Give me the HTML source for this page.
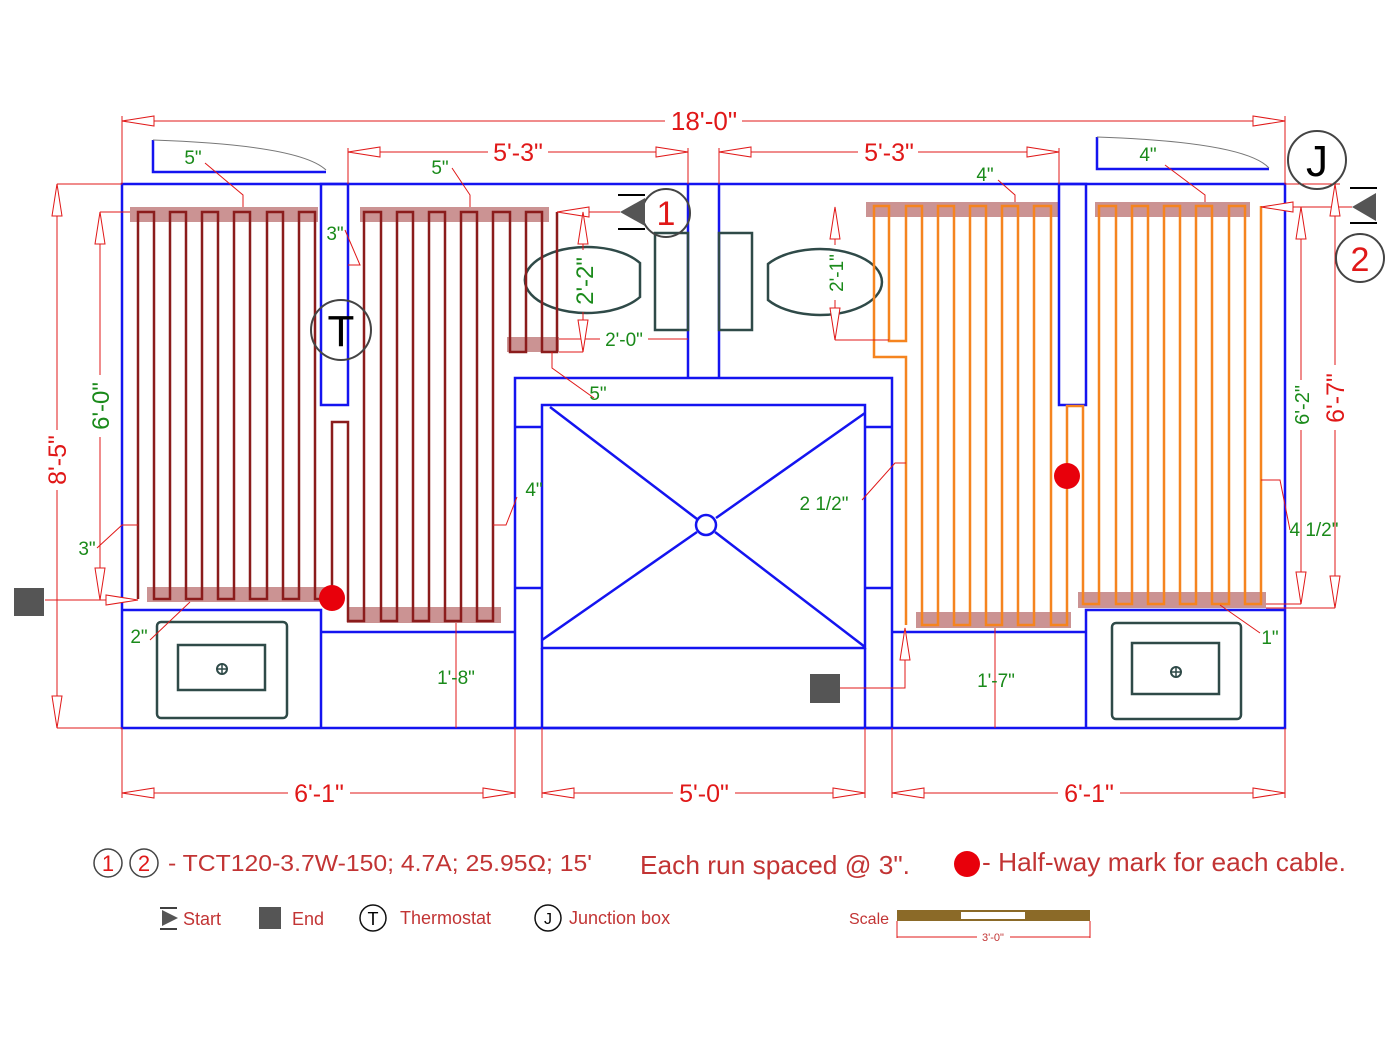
<!DOCTYPE html>
<html><head><meta charset="utf-8"><style>
html,body{margin:0;padding:0;background:#fff}
svg{display:block}
text{font-family:"Liberation Sans",Arial,sans-serif}
.w{stroke:#1414f0;stroke-width:2.5;fill:none}
.d{stroke:#e01818;stroke-width:1;fill:none}
.ar{stroke:#e01818;stroke-width:1;fill:#fff}
.g{fill:#1a8a1a;font-size:19px}
.r{fill:#e01818}
.fx{stroke:#2f4a48;stroke-width:2.5;fill:none}
.bar{fill:#b56565;opacity:0.7}
</style></head><body>
<svg width="1400" height="1049" viewBox="0 0 1400 1049" xmlns="http://www.w3.org/2000/svg">
<rect class="bar" x="130" y="207" width="188" height="15"/>
<rect class="bar" x="360" y="207" width="189" height="15"/>
<rect class="bar" x="147" y="587" width="186" height="15"/>
<rect class="bar" x="347" y="607" width="154" height="16"/>
<rect class="bar" x="507" y="337" width="52" height="15"/>
<rect class="bar" x="866" y="202" width="192" height="15"/>
<rect class="bar" x="1095" y="202" width="155" height="15"/>
<rect class="bar" x="916" y="612" width="155" height="16"/>
<rect class="bar" x="1078" y="592" width="188" height="16"/>

<rect class="w" x="122" y="184" width="1163" height="544"/>
<rect class="w" x="321" y="184" width="27" height="221"/>
<rect class="w" x="1059" y="184" width="27" height="221"/>
<line class="w" x1="688" y1="184" x2="688" y2="378"/>
<line class="w" x1="719" y1="184" x2="719" y2="378"/>
<rect class="w" x="515" y="378" width="377" height="350"/>
<rect class="w" x="542" y="405" width="323" height="243"/>
<line class="w" x1="542" y1="648" x2="542" y2="728"/>
<line class="w" x1="865" y1="648" x2="865" y2="728"/>
<line class="w" x1="515" y1="427" x2="542" y2="427"/>
<line class="w" x1="515" y1="588" x2="542" y2="588"/>
<line class="w" x1="865" y1="427" x2="892" y2="427"/>
<line class="w" x1="865" y1="588" x2="892" y2="588"/>
<line class="w" x1="550" y1="407" x2="697" y2="519"/>
<line class="w" x1="715" y1="532" x2="865" y2="647"/>
<line class="w" x1="865" y1="413" x2="716" y2="518"/>
<line class="w" x1="697" y1="532" x2="542" y2="640"/>
<circle class="w" cx="706" cy="525" r="10"/>
<polyline class="w" points="122,610 321,610 321,728"/>
<line class="w" x1="321" y1="632" x2="515" y2="632"/>
<line class="w" x1="892" y1="632" x2="1086" y2="632"/>
<polyline class="w" points="1285,610 1086,610 1086,728"/>
<polyline class="w" points="153,140 153,172 326,172"/>
<path d="M153,140 Q300,145 326,170" stroke="#777" stroke-width="1" fill="none"/>
<polyline class="w" points="1097,137 1097,169 1269,169"/>
<path d="M1097,137 Q1245,142 1269,168" stroke="#777" stroke-width="1" fill="none"/>

<path class="fx" d="M640,263 A62,33 0 1 0 640,297 Z"/>
<path class="fx" d="M768,264 A62,33 0 1 1 768,300 Z"/>
<rect class="fx" x="655" y="233" width="33" height="97"/>
<rect class="fx" x="719" y="233" width="33" height="97"/>
<rect class="fx" x="157" y="622" width="130" height="96" rx="4"/>
<rect class="fx" x="178" y="645" width="87" height="45"/>
<circle cx="222" cy="669" r="5" stroke="#2f4a48" stroke-width="2" fill="none"/><path d="M217,669h10M222,664v10" stroke="#2f4a48" stroke-width="1.5"/>
<rect class="fx" x="1112" y="623" width="129" height="96" rx="4"/>
<rect class="fx" x="1132" y="643" width="87" height="51"/>
<circle cx="1176" cy="672" r="5" stroke="#2f4a48" stroke-width="2" fill="none"/><path d="M1171,672h10M1176,667v10" stroke="#2f4a48" stroke-width="1.5"/>

<path d="M557,212 L557,352 L542,352 L542,212 L526,212 L526,352 L510,352 L510,212 L493,212 L493,621 L477,621 L477,212 L461,212 L461,621 L445,621 L445,212 L429,212 L429,621 L413,621 L413,212 L397,212 L397,621 L381,621 L381,212 L364,212 L364,621 L348,621 L348,422 L332,422 L332,599 L315,599 L315,212 L299,212 L299,599 L283,599 L283,212 L267,212 L267,599 L250,599 L250,212 L234,212 L234,599 L218,599 L218,212 L202,212 L202,599 L186,599 L186,212 L170,212 L170,599 L154,599 L154,212 L138,212 L138,599" stroke="#8b1c1c" stroke-width="2.5" fill="none"/>
<path d="M1261,206 L1261,604 L1245,604 L1245,206 L1229,206 L1229,604 L1212,604 L1212,206 L1196,206 L1196,604 L1180,604 L1180,206 L1164,206 L1164,604 L1148,604 L1148,206 L1132,206 L1132,604 L1116,604 L1116,206 L1099,206 L1099,604 L1083,604 L1083,406 L1067,406 L1067,625 L1051,625 L1051,206 L1034,206 L1034,625 L1018,625 L1018,206 L1002,206 L1002,625 L986,625 L986,206 L970,206 L970,625 L954,625 L954,206 L938,206 L938,625 L922,625 L922,206 L906,206 L906,341 L889,341 L889,206 L874,206 L874,357 L906,357 L906,625" stroke="#f5841f" stroke-width="2.5" fill="none"/>
<circle cx="332" cy="598" r="13" fill="#e8000b"/>
<circle cx="1067" cy="476" r="13" fill="#e8000b"/>

<g class="d">
<line x1="122" y1="121" x2="665" y2="121"/><line x1="742" y1="121" x2="1285" y2="121"/>
<line x1="122" y1="116" x2="122" y2="184"/><line x1="1285" y1="116" x2="1285" y2="184"/>
<line x1="348" y1="152" x2="488" y2="152"/><line x1="548" y1="152" x2="688" y2="152"/>
<line x1="348" y1="148" x2="348" y2="184"/><line x1="688" y1="148" x2="688" y2="184"/>
<line x1="719" y1="152" x2="858" y2="152"/><line x1="918" y1="152" x2="1059" y2="152"/>
<line x1="719" y1="148" x2="719" y2="184"/><line x1="1059" y1="148" x2="1059" y2="184"/>
<line x1="57" y1="184" x2="57" y2="430"/><line x1="57" y1="490" x2="57" y2="728"/>
<line x1="57" y1="184" x2="122" y2="184"/><line x1="57" y1="728" x2="122" y2="728"/>
<line x1="100" y1="212" x2="100" y2="375"/><line x1="100" y1="437" x2="100" y2="600"/>
<line x1="100" y1="212" x2="130" y2="212"/><line x1="45" y1="600" x2="138" y2="600"/>
<line x1="1335" y1="184" x2="1335" y2="365"/><line x1="1335" y1="430" x2="1335" y2="608"/>
<line x1="1285" y1="184" x2="1340" y2="184"/><line x1="1266" y1="608" x2="1335" y2="608"/>
<line x1="1301" y1="207" x2="1301" y2="380"/><line x1="1301" y1="430" x2="1301" y2="604"/>
<line x1="1266" y1="604" x2="1301" y2="604"/>
<line x1="1261" y1="207" x2="1352" y2="207"/>
<line x1="557" y1="212" x2="620" y2="212"/>
<line x1="583" y1="212" x2="583" y2="250"/><line x1="583" y1="312" x2="583" y2="352"/>
<line x1="559" y1="352" x2="583" y2="352"/>
<line x1="559" y1="339" x2="600" y2="339"/><line x1="648" y1="339" x2="688" y2="339"/>
<line x1="835" y1="207" x2="835" y2="245"/><line x1="835" y1="300" x2="835" y2="340"/>
<line x1="835" y1="340" x2="889" y2="340"/>
<line x1="122" y1="728" x2="122" y2="798"/><line x1="515" y1="728" x2="515" y2="798"/>
<line x1="542" y1="728" x2="542" y2="798"/><line x1="865" y1="728" x2="865" y2="798"/>
<line x1="892" y1="728" x2="892" y2="798"/><line x1="1285" y1="728" x2="1285" y2="798"/>
<line x1="122" y1="793" x2="288" y2="793"/><line x1="350" y1="793" x2="515" y2="793"/>
<line x1="542" y1="793" x2="673" y2="793"/><line x1="735" y1="793" x2="865" y2="793"/>
<line x1="892" y1="793" x2="1058" y2="793"/><line x1="1120" y1="793" x2="1285" y2="793"/>
<line x1="456" y1="623" x2="456" y2="728"/><line x1="995" y1="628" x2="995" y2="728"/>
<polyline points="840,688 905,688 905,628"/>
<polyline points="205,163 243,195 243,207"/><polyline points="452,168 470,195 470,207"/>
<polyline points="345,230 360,265 348,265"/><polyline points="998,180 1015,195 1015,202"/>
<polyline points="1165,165 1205,195 1205,202"/><polyline points="594,398 552,368 552,352"/>
<polyline points="97,548 122,525 138,525"/><polyline points="517,497 506,525 493,525"/>
<polyline points="862,500 895,463 906,463"/><polyline points="1290,530 1280,480 1261,480"/>
<polyline points="1260,633 1220,605"/><polyline points="150,640 190,602"/>
</g>
<g class="ar">
<path d="M122,121 L154,116 L154,126Z"/><path d="M1285,121 L1253,116 L1253,126Z"/>
<path d="M348,152 L380,147 L380,157Z"/><path d="M688,152 L656,147 L656,157Z"/>
<path d="M719,152 L751,147 L751,157Z"/><path d="M1059,152 L1027,147 L1027,157Z"/>
<path d="M57,184 L52,216 L62,216Z"/><path d="M57,728 L52,696 L62,696Z"/>
<path d="M100,212 L95,244 L105,244Z"/><path d="M100,600 L95,568 L105,568Z"/>
<path d="M1335,184 L1330,216 L1340,216Z"/><path d="M1335,608 L1330,576 L1340,576Z"/>
<path d="M1301,207 L1296,239 L1306,239Z"/><path d="M1301,604 L1296,572 L1306,572Z"/>
<path d="M122,793 L154,788 L154,798Z"/><path d="M515,793 L483,788 L483,798Z"/>
<path d="M542,793 L574,788 L574,798Z"/><path d="M865,793 L833,788 L833,798Z"/>
<path d="M892,793 L924,788 L924,798Z"/><path d="M1285,793 L1253,788 L1253,798Z"/>
<path d="M138,600 L106,595 L106,605Z"/><path d="M557,212 L589,207 L589,217Z"/>
<path d="M1261,207 L1293,202 L1293,212Z"/>
<path d="M583,212 L578,244 L588,244Z"/><path d="M583,352 L578,320 L588,320Z"/>
<path d="M835,207 L830,239 L840,239Z"/><path d="M835,340 L830,308 L840,308Z"/>
<path d="M905,628 L900,660 L910,660Z"/>
</g>

<g class="r" text-anchor="middle">
<text x="704" y="130" font-size="26">18'-0"</text>
<text x="518" y="161" font-size="25">5'-3"</text>
<text x="889" y="161" font-size="25">5'-3"</text>
<text x="319" y="802" font-size="25">6'-1"</text>
<text x="704" y="802" font-size="25">5'-0"</text>
<text x="1089" y="802" font-size="25">6'-1"</text>
<text transform="translate(66,460) rotate(-90)" font-size="25">8'-5"</text>
<text transform="translate(1344,398) rotate(-90)" font-size="25">6'-7"</text>
</g>
<g class="g" text-anchor="middle">
<text transform="translate(109,406) rotate(-90)" font-size="24">6'-0"</text>
<text transform="translate(1309,405) rotate(-90)" font-size="20">6'-2"</text>
<text transform="translate(593,281) rotate(-90)" font-size="24">2'-2"</text>
<text transform="translate(843,273) rotate(-90)" font-size="19">2'-1"</text>
<text x="193" y="164">5"</text><text x="440" y="174">5"</text>
<text x="335" y="240">3"</text><text x="985" y="181">4"</text>
<text x="1148" y="161">4"</text><text x="624" y="346">2'-0"</text>
<text x="598" y="400">5"</text><text x="87" y="555">3"</text>
<text x="534" y="496">4"</text><text x="824" y="510">2 1/2"</text>
<text x="1314" y="536">4 1/2"</text><text x="1270" y="644">1"</text>
<text x="139" y="643">2"</text><text x="456" y="684">1'-8"</text>
<text x="996" y="687">1'-7"</text>
</g>

<circle cx="341" cy="330" r="30" stroke="#444" stroke-width="2" fill="none"/>
<text x="341" y="346" font-size="44" text-anchor="middle" fill="#000">T</text>
<circle cx="1317" cy="160" r="29" stroke="#444" stroke-width="2" fill="none"/>
<text x="1317" y="176" font-size="44" text-anchor="middle" fill="#000">J</text>
<circle cx="666" cy="213" r="24" stroke="#444" stroke-width="2" fill="none"/>
<text x="666" y="225" font-size="34" text-anchor="middle" class="r">1</text>
<circle cx="1360" cy="258" r="24" stroke="#444" stroke-width="2" fill="none"/>
<text x="1360" y="271" font-size="34" text-anchor="middle" class="r">2</text>
<path d="M620,212 L645,198 L645,226Z" fill="#555"/>
<path d="M618,195h27M618,229h27" stroke="#000" stroke-width="2"/>
<path d="M1352,207 L1376,193 L1376,221Z" fill="#555"/>
<path d="M1350,188h27M1350,223h27" stroke="#000" stroke-width="2"/>
<rect x="14" y="588" width="30" height="28" fill="#555"/>
<rect x="810" y="674" width="30" height="29" fill="#555"/>

<circle cx="108" cy="863" r="14" stroke="#444" stroke-width="1.5" fill="none"/>
<text x="108" y="871" font-size="22" text-anchor="middle" class="r">1</text>
<circle cx="144" cy="863" r="14" stroke="#444" stroke-width="1.5" fill="none"/>
<text x="144" y="871" font-size="22" text-anchor="middle" class="r">2</text>
<text x="168" y="871" font-size="23.5" fill="#c23434" textLength="424" lengthAdjust="spacingAndGlyphs">- TCT120-3.7W-150; 4.7A; 25.95Ω; 15'</text>
<text x="640" y="874" font-size="26" fill="#c23434" textLength="270" lengthAdjust="spacingAndGlyphs">Each run spaced @ 3".</text>
<circle cx="967" cy="864" r="13" fill="#e8000b"/>
<text x="982" y="871" font-size="26" fill="#c23434" textLength="364" lengthAdjust="spacingAndGlyphs">- Half-way mark for each cable.</text>
<path d="M162,910 L178,918 L162,926Z" fill="#555"/>
<path d="M160,908h17M160,929h17" stroke="#000" stroke-width="1.5"/>
<text x="183" y="925" font-size="18" fill="#c23434">Start</text>
<rect x="259" y="907" width="22" height="22" fill="#555"/>
<text x="292" y="925" font-size="18" fill="#c23434">End</text>
<circle cx="373" cy="918" r="13" stroke="#111" stroke-width="1.5" fill="none"/>
<text x="373" y="925" font-size="18" text-anchor="middle">T</text>
<text x="400" y="924" font-size="18" fill="#c23434">Thermostat</text>
<circle cx="548" cy="918" r="13" stroke="#111" stroke-width="1.5" fill="none"/>
<text x="548" y="924" font-size="16" text-anchor="middle">J</text>
<text x="569" y="924" font-size="18" fill="#c23434">Junction box</text>
<text x="849" y="924" font-size="16" fill="#c23434">Scale</text>
<rect x="897" y="910" width="193" height="11" fill="#8b6a28"/>
<rect x="961" y="912" width="64" height="7" fill="#fff"/>
<path d="M897,921v17M1090,921v17M897,937h80M1010,937h80" stroke="#e01818" stroke-width="1" fill="none"/>
<text x="993" y="941" font-size="11" text-anchor="middle" fill="#c23434">3'-0"</text>
</svg>
</body></html>
